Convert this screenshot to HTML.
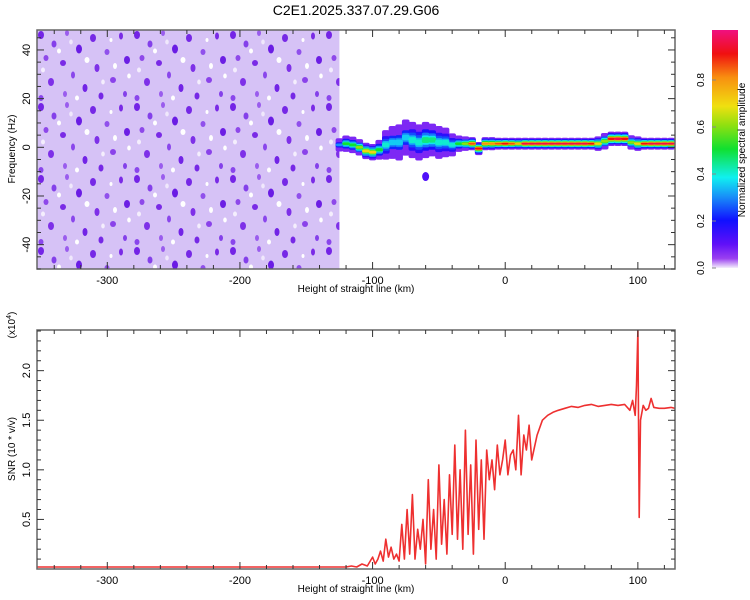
<!DOCTYPE html>
<html><head><meta charset="utf-8"><style>
body{margin:0;background:#fff;}
svg{display:block;font-family:"Liberation Sans",sans-serif;}
</style></head><body>
<svg id="fig" width="750" height="600" viewBox="0 0 750 600">
<defs>
<pattern id="noise" x="37" y="30" width="96" height="72" patternUnits="userSpaceOnUse">
<rect width="96" height="72" fill="#d6c2f6"/>
<ellipse cx="4" cy="5" rx="3" ry="4" fill="#7424e6"/>
<ellipse cx="17" cy="14" rx="2.5" ry="3.5" fill="#8440ea"/>
<ellipse cx="30" cy="3" rx="2" ry="3" fill="#9a5cee"/>
<ellipse cx="42" cy="19" rx="3" ry="4.5" fill="#6a1ce4"/>
<ellipse cx="9" cy="28" rx="2.5" ry="3" fill="#8e48ea"/>
<ellipse cx="26" cy="33" rx="3" ry="3" fill="#7a2ae6"/>
<ellipse cx="36" cy="45" rx="2" ry="3.5" fill="#8a46ec"/>
<ellipse cx="56" cy="8" rx="3" ry="4" fill="#7628e6"/>
<ellipse cx="70" cy="22" rx="2.5" ry="3" fill="#9050ec"/>
<ellipse cx="84" cy="6" rx="2" ry="3.5" fill="#7a2ae6"/>
<ellipse cx="90" cy="30" rx="3" ry="4" fill="#6c1ee4"/>
<ellipse cx="60" cy="38" rx="2.5" ry="4" fill="#7e30e8"/>
<ellipse cx="76" cy="50" rx="3" ry="3" fill="#8a42ea"/>
<ellipse cx="48" cy="58" rx="2.5" ry="4" fill="#7224e6"/>
<ellipse cx="14" cy="52" rx="3" ry="4" fill="#7e30e8"/>
<ellipse cx="28" cy="64" rx="2" ry="3" fill="#9a5cee"/>
<ellipse cx="64" cy="66" rx="2.5" ry="3.5" fill="#7628e6"/>
<ellipse cx="88" cy="64" rx="2" ry="3" fill="#8440ea"/>
<ellipse cx="4" cy="68" rx="2.5" ry="3" fill="#8a46ec"/>
<ellipse cx="22" cy="21" rx="2" ry="2.5" fill="#ffffff"/>
<ellipse cx="50" cy="30" rx="2.5" ry="3" fill="#ffffff"/>
<ellipse cx="6" cy="40" rx="2" ry="2.5" fill="#f4eefd"/>
<ellipse cx="34" cy="12" rx="1.8" ry="2.5" fill="#f0e8fc"/>
<ellipse cx="78" cy="36" rx="2" ry="3" fill="#ffffff"/>
<ellipse cx="40" cy="68" rx="2" ry="2.5" fill="#ffffff"/>
<ellipse cx="66" cy="52" rx="1.8" ry="2.5" fill="#f4eefd"/>
<ellipse cx="92" cy="46" rx="1.8" ry="2.5" fill="#ffffff"/>
<ellipse cx="74" cy="10" rx="1.5" ry="2" fill="#ffffff"/>
</pattern>
<linearGradient id="cbar" x1="0" y1="1" x2="0" y2="0">
<stop offset="0" stop-color="#f4eefc"/><stop offset="0.04" stop-color="#9a40f0"/>
<stop offset="0.1" stop-color="#6010f8"/><stop offset="0.2" stop-color="#1010ff"/>
<stop offset="0.3" stop-color="#1890f8"/><stop offset="0.38" stop-color="#10f0f0"/>
<stop offset="0.5" stop-color="#10e030"/><stop offset="0.6" stop-color="#90e010"/>
<stop offset="0.68" stop-color="#f0e010"/><stop offset="0.8" stop-color="#f89010"/>
<stop offset="0.9" stop-color="#f01010"/><stop offset="1" stop-color="#f01080"/>
</linearGradient>
<clipPath id="clipTop"><rect x="37" y="30" width="638" height="239"/></clipPath>
<clipPath id="clipBot"><rect x="37" y="330" width="638" height="239"/></clipPath>
</defs>
<text x="356" y="15" text-anchor="middle" font-size="14">C2E1.2025.337.07.29.G06</text>
<g id="top"></g>
<g id="bot"></g>
<g id="cb"></g>
</svg>
<script>
// ---- data ----
const xDomain = [-353, 128];
const fDomain = [-50, 48.2];
const snrDomain = [0, 2.41];
const xTicks = [-300, -200, -100, 0, 100];
const fTicks = [-40, -20, 0, 20, 40];
const snrTicks = [0.5, 1.0, 1.5, 2.0];
const cbTicks = [0.0, 0.2, 0.4, 0.6, 0.8];
const noiseRange = [-353, -125];
const bandX = [-125,-120,-115,-110,-105,-100,-95,-90,-85,-80,-75,-70,-65,-60,-55,-50,-45,-40,-35,-30,-25,-20,-15,-10,-5,0,5,10,15,20,25,30,35,40,45,50,55,60,65,70,75,80,85,90,95,100,105,110,115,120,125];
const bandF = [1,1.5,1,0,-1.5,-2,-1,1,2,2,4,3,2,3,3,2,2,1,1.5,1.5,1.5,-0.5,1.5,1.5,1.5,1.5,1.5,1.5,1.5,1.5,1.5,1.5,1.5,1.5,1.5,1.5,1.5,1.5,1.5,1.5,2.5,3.5,3.5,3.5,2,1.5,1.5,1.5,1.5,1.5,1.5];
const bandW = [2,2.5,2.5,2.5,2.5,2.5,3,4.5,5,5.5,5.5,5.5,5.5,5.5,5,5,4.5,3.5,2.5,2.2,2,2,2,2,1.8,1.8,1.8,1.8,1.8,1.8,1.8,1.8,1.8,1.8,1.8,1.8,1.8,1.8,1.8,2.2,2.5,2.2,2.2,2.2,2.2,2.2,1.8,1.8,1.8,1.8,1.8];
const bandAmp = [0.3,0.5,0.5,0.6,0.7,0.7,0.5,0.4,0.35,0.35,0.35,0.4,0.4,0.45,0.45,0.4,0.4,0.4,0.5,0.6,0.85,0.9,0.8,0.8,0.85,0.9,0.85,0.75,0.95,0.95,0.95,0.95,0.95,0.95,0.95,0.95,0.95,0.95,0.9,0.7,0.6,0.9,0.95,0.9,0.6,0.7,0.9,0.95,0.95,0.95,0.95];
const snrX = [-353,-300,-250,-200,-150,-125,-120,-116,-112,-108,-104,-100,-98,-96,-94,-92,-90,-88,-86,-84,-82,-80,-78,-76,-74,-72,-70,-68,-66,-64,-62,-60,-58,-56,-54,-52,-50,-48,-46,-44,-42,-40,-38,-36,-34,-32,-30,-28,-26,-24,-22,-20,-18,-16,-14,-12,-10,-8,-6,-4,-2,0,2,4,6,8,10,12,14,16,18,20,24,28,32,36,40,45,50,55,60,65,70,75,80,85,90,94,96,98,99,100,101,102,104,106,108,110,112,116,120,125,128];
const snrY = [0.02,0.02,0.02,0.02,0.02,0.02,0.02,0.03,0.02,0.05,0.03,0.12,0.05,0.1,0.18,0.08,0.3,0.12,0.22,0.1,0.15,0.08,0.45,0.1,0.6,0.15,0.75,0.1,0.4,0.2,0.5,0.05,0.9,0.2,0.6,0.1,1.05,0.25,0.7,0.15,0.95,0.35,1.25,0.3,1.0,0.2,1.4,0.35,1.05,0.15,1.3,0.4,1.1,0.3,1.2,0.9,1.1,0.8,1.25,0.95,1.1,1.3,0.95,1.15,1.2,1.0,1.55,0.95,1.35,1.2,1.45,1.1,1.35,1.5,1.55,1.58,1.6,1.62,1.64,1.63,1.65,1.66,1.64,1.65,1.66,1.65,1.66,1.6,1.7,1.55,1.85,2.41,0.52,1.5,1.65,1.6,1.62,1.72,1.63,1.62,1.62,1.63,1.62];
// ---- helpers ----
const NS='http://www.w3.org/2000/svg';
const L=37,R=675,T1=30,B1=269,T2=330,B2=569;
function sx(v){return L+(v-xDomain[0])/(xDomain[1]-xDomain[0])*(R-L);}
function sf(v){return B1-(v-fDomain[0])/(fDomain[1]-fDomain[0])*(B1-T1);}
function ss(v){return B2-(v-snrDomain[0])/(snrDomain[1]-snrDomain[0])*(B2-T2);}
function mk(tag,attrs,parent){const e=document.createElementNS(NS,tag);for(const k in attrs)e.setAttribute(k,attrs[k]);parent.appendChild(e);return e;}
const stops=[[0,[244,238,252]],[0.04,[154,64,240]],[0.1,[96,16,248]],[0.2,[16,16,255]],[0.3,[24,144,248]],[0.38,[16,240,240]],[0.5,[16,224,48]],[0.6,[144,224,16]],[0.68,[240,224,16]],[0.8,[248,144,16]],[0.9,[240,16,16]],[1,[240,16,128]]];
function cmap(a){a=Math.max(0,Math.min(1,a));for(let i=1;i<stops.length;i++){if(a<=stops[i][0]){const [a0,c0]=stops[i-1],[a1,c1]=stops[i];const t=(a-a0)/(a1-a0);return 'rgb('+c0.map((c,j)=>Math.round(c+(c1[j]-c)*t)).join(',')+')';}}return 'rgb(240,16,128)';}
const gTop=document.getElementById('top'),gBot=document.getElementById('bot'),gCb=document.getElementById('cb');
// ---- spectrogram ----
const heat=mk('g',{'clip-path':'url(#clipTop)'},gTop);


const nz=mk('rect',{x:sx(noiseRange[0]),y:T1,width:sx(noiseRange[1])-sx(noiseRange[0]),height:B1-T1,fill:'url(#noise)'},heat);


const layers=[[1.35,0.05],[1.05,0.22],[0.8,0.42],[0.55,0.62],[0.35,0.82],[0.22,1.0]];
for(const [wm,am] of layers){
  for(let i=0;i<bandX.length;i++){
    const x0=sx(bandX[i]-2.5),x1=sx(bandX[i]+2.5);
    const h=bandW[i]*wm;
    const a=bandAmp[i]*am;
    if(am>0.2 && a<0.15) continue;
    const r=mk('rect',{x:x0-0.5,y:sf(bandF[i]+h),width:x1-x0+1,height:Math.max(1.5,sf(bandF[i]-h)-sf(bandF[i]+h)),fill:cmap(Math.max(a,0.07)),rx:2},heat);
    
    
  }
}
const blob=mk('ellipse',{cx:sx(-60),cy:sf(-12),rx:3.5,ry:4.5,fill:cmap(0.12)},heat);


function frame(g,T,B){mk('rect',{x:L,y:T,width:R-L,height:B-T,fill:'none',stroke:'#666','stroke-width':1.5},g);}
function xAxis(g,T,B,labelY,titleY){
  for(let v=-340;v<=120;v+=20){const X=sx(v);const major=xTicks.includes(v);const len=major?7:4;
    mk('line',{x1:X,y1:B,x2:X,y2:B-len,stroke:'#333'},g);mk('line',{x1:X,y1:T,x2:X,y2:T+len,stroke:'#333'},g);}
  xTicks.forEach(v=>{const t=mk('text',{x:sx(v),y:labelY,'text-anchor':'middle','font-size':11},g);t.textContent=v;});
  const tt=mk('text',{x:356,y:titleY,'text-anchor':'middle','font-size':10},g);tt.textContent='Height of straight line (km)';
  
  
}
frame(gTop,T1,B1);
xAxis(gTop,T1,B1,284,292);
for(let v=-50;v<=45;v+=5){const Y=sf(v);const major=fTicks.includes(v);const len=major?7:4;
  mk('line',{x1:L,y1:Y,x2:L+len,y2:Y,stroke:'#333'},gTop);mk('line',{x1:R,y1:Y,x2:R-len,y2:Y,stroke:'#333'},gTop);}
fTicks.forEach(v=>{const t=mk('text',{x:0,y:0,'text-anchor':'middle','font-size':11,transform:'translate(30,'+sf(v)+') rotate(-90)'},gTop);t.textContent=v;});
const fy=mk('text',{x:0,y:0,'text-anchor':'middle','font-size':10,transform:'translate(15,149) rotate(-90)'},gTop);fy.textContent='Frequency (Hz)';


// ---- colorbar ----
const cbr=mk('rect',{x:712,y:30,width:26,height:238,fill:'url(#cbar)'},gCb);


function cy(v){return 268-v*235;}
cbTicks.forEach(v=>{mk('line',{x1:712,y1:cy(v),x2:716,y2:cy(v),stroke:'#888'},gCb);const t=mk('text',{x:0,y:0,'text-anchor':'middle','font-size':10,transform:'translate(704,'+cy(v)+') rotate(-90)'},gCb);t.textContent=v.toFixed(1);});
const ct=mk('text',{x:0,y:0,'text-anchor':'middle','font-size':10,transform:'translate(745,150) rotate(-90)'},gCb);ct.textContent='Normalized spectral amplitude';


// ---- SNR ----
const line=mk('polyline',{points:snrX.map((x,i)=>sx(x).toFixed(1)+','+ss(snrY[i]).toFixed(1)).join(' '),fill:'none',stroke:'#ee3030','stroke-width':1.6,'stroke-linejoin':'round','clip-path':'url(#clipBot)'},gBot);


frame(gBot,T2,B2);
xAxis(gBot,T2,B2,584,592);
for(let v=0.1;v<2.41;v+=0.1){const r=Math.round(v*10)/10;const Y=ss(r);const major=snrTicks.includes(r);const len=major?7:4;
  mk('line',{x1:L,y1:Y,x2:L+len,y2:Y,stroke:'#333'},gBot);mk('line',{x1:R,y1:Y,x2:R-len,y2:Y,stroke:'#333'},gBot);}
snrTicks.forEach(v=>{const t=mk('text',{x:0,y:0,'text-anchor':'middle','font-size':11,transform:'translate(30,'+ss(v)+') rotate(-90)'},gBot);t.textContent=v.toFixed(1);});
const sy=mk('text',{x:0,y:0,'text-anchor':'middle','font-size':10,transform:'translate(15,449) rotate(-90)'},gBot);sy.textContent='SNR (10 * v/v)';


const sc=mk('text',{x:0,y:0,'text-anchor':'middle','font-size':10,transform:'translate(15,325) rotate(-90)'},gBot);sc.innerHTML='(x10<tspan dy="-4" font-size="7">4</tspan><tspan dy="4">)</tspan>';


</script>
</body></html>
